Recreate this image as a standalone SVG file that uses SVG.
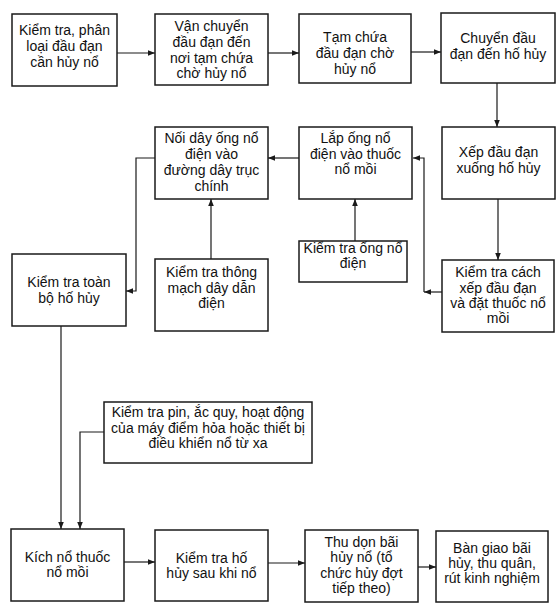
<svg xmlns="http://www.w3.org/2000/svg" width="558" height="616" viewBox="0 0 558 616">
<style>
.box{fill:#fff;stroke:#1a1a1a;stroke-width:1.5}
.t{font-family:"Liberation Sans",Arial,sans-serif;font-size:14px;fill:#111;text-anchor:middle}
.c{fill:none;stroke:#1a1a1a;stroke-width:1.2}
</style>
<defs>
<marker id="ah" viewBox="0 0 10 10" refX="10" refY="5" markerWidth="7" markerHeight="7" markerUnits="userSpaceOnUse" orient="auto">
<path d="M0,1 L10,5 L0,9 z" fill="#1a1a1a"/>
</marker>
</defs>
<rect width="558" height="616" fill="#fff"/>
<g id="connectors">
<line class="c" x1="117" y1="53" x2="155" y2="53" marker-end="url(#ah)"/>
<line class="c" x1="268" y1="53" x2="299" y2="53" marker-end="url(#ah)"/>
<line class="c" x1="411" y1="52" x2="441" y2="52" marker-end="url(#ah)"/>
<line class="c" x1="497" y1="83" x2="497" y2="127" marker-end="url(#ah)"/>
<line class="c" x1="498" y1="199" x2="498" y2="260" marker-end="url(#ah)"/>
<line class="c" x1="442" y1="292" x2="424" y2="292" marker-end="url(#ah)"/>
<polyline class="c" points="424,292 424,158 413,158" marker-end="url(#ah)"/>
<line class="c" x1="299" y1="158" x2="268" y2="158" marker-end="url(#ah)"/>
<line class="c" x1="355" y1="241" x2="355" y2="199" marker-end="url(#ah)"/>
<line class="c" x1="211" y1="259" x2="211" y2="199" marker-end="url(#ah)"/>
<polyline class="c" points="155,158 136,158 136,291 126,291" marker-end="url(#ah)"/>
<line class="c" x1="61" y1="326" x2="61" y2="529" marker-end="url(#ah)"/>
<polyline class="c" points="104,432 80,432 80,529" marker-end="url(#ah)"/>
<line class="c" x1="124" y1="562" x2="155" y2="562" marker-end="url(#ah)"/>
<line class="c" x1="268" y1="563" x2="305" y2="563" marker-end="url(#ah)"/>
<line class="c" x1="418" y1="567" x2="436" y2="567" marker-end="url(#ah)"/>
</g>
<g id="n1"><rect class="box" x="12" y="14" width="105" height="72"/>
<text class="t"><tspan x="64.5" y="35">Kiểm tra, phân</tspan><tspan x="64.5" y="51">loại đầu đạn</tspan><tspan x="64.5" y="67">cần hủy nổ</tspan></text></g>
<g id="n2"><rect class="box" x="155" y="14" width="113" height="71"/>
<text class="t"><tspan x="211.5" y="31">Vận chuyển</tspan><tspan x="211.5" y="47">đầu đạn đến</tspan><tspan x="211.5" y="62.5">nơi tạm chứa</tspan><tspan x="211.5" y="78">chờ hủy nổ</tspan></text></g>
<g id="n3"><rect class="box" x="299" y="14" width="112" height="69"/>
<text class="t"><tspan x="355" y="42">Tạm chứa</tspan><tspan x="355" y="58">đầu đạn chờ</tspan><tspan x="355" y="74">hủy nổ</tspan></text></g>
<g id="n4"><rect class="box" x="441" y="13" width="114" height="70"/>
<text class="t"><tspan x="498" y="43">Chuyển đầu</tspan><tspan x="498" y="59">đạn đến hố hủy</tspan></text></g>
<g id="n5"><rect class="box" x="442" y="127" width="113" height="72"/>
<text class="t"><tspan x="498.5" y="157">Xếp đầu đạn</tspan><tspan x="498.5" y="173">xuống hố hủy</tspan></text></g>
<g id="n6"><rect class="box" x="442" y="260" width="112" height="72"/>
<text class="t"><tspan x="498" y="277">Kiểm tra cách</tspan><tspan x="498" y="292.5">xếp đầu đạn</tspan><tspan x="498" y="308">và đặt thuốc nổ</tspan><tspan x="498" y="323">mồi</tspan></text></g>
<g id="n7"><rect class="box" x="299" y="127" width="113" height="72"/>
<text class="t"><tspan x="355.5" y="143">Lắp ống nổ</tspan><tspan x="355.5" y="159">điện vào thuốc</tspan><tspan x="355.5" y="174">nổ mồi</tspan></text></g>
<g id="n8"><rect class="box" x="299" y="241" width="108" height="41"/>
<text class="t"><tspan x="353" y="253">Kiểm tra ống nổ</tspan><tspan x="353" y="268">điện</tspan></text></g>
<g id="n9"><rect class="box" x="155" y="127" width="113" height="72"/>
<text class="t"><tspan x="211.5" y="143">Nối dây ống nổ</tspan><tspan x="211.5" y="159">điện vào</tspan><tspan x="211.5" y="175">đường dây trục</tspan><tspan x="211.5" y="191">chính</tspan></text></g>
<g id="n10"><rect class="box" x="155" y="259" width="113" height="72"/>
<text class="t"><tspan x="211.5" y="277">Kiểm tra thông</tspan><tspan x="211.5" y="293">mạch dây dẫn</tspan><tspan x="211.5" y="308">điện</tspan></text></g>
<g id="n11"><rect class="box" x="12" y="254" width="114" height="72"/>
<text class="t"><tspan x="69" y="287">Kiểm tra toàn</tspan><tspan x="69" y="303">bộ hố hủy</tspan></text></g>
<g id="n12"><rect class="box" x="104" y="402" width="208" height="61"/>
<text class="t"><tspan x="208" y="417">Kiểm tra pin, ắc quy, hoạt động</tspan><tspan x="208" y="433">của máy điểm hỏa hoặc thiết bị</tspan><tspan x="208" y="448">điều khiển nổ từ xa</tspan></text></g>
<g id="n13"><rect class="box" x="11" y="529" width="113" height="72"/>
<text class="t"><tspan x="67.5" y="562">Kích nổ thuốc</tspan><tspan x="67.5" y="577">nổ mồi</tspan></text></g>
<g id="n14"><rect class="box" x="155" y="530" width="113" height="71"/>
<text class="t"><tspan x="211.5" y="563">Kiểm tra hố</tspan><tspan x="211.5" y="578">hủy sau khi nổ</tspan></text></g>
<g id="n15"><rect class="box" x="305" y="530" width="113" height="72"/>
<text class="t"><tspan x="361.5" y="547">Thu dọn bãi</tspan><tspan x="361.5" y="562">hủy nổ (tổ</tspan><tspan x="361.5" y="578">chức hủy đợt</tspan><tspan x="361.5" y="593">tiếp theo)</tspan></text></g>
<g id="n16"><rect class="box" x="436" y="531" width="112" height="71"/>
<text class="t"><tspan x="492" y="553">Bàn giao bãi</tspan><tspan x="492" y="568">hủy, thu quân,</tspan><tspan x="492" y="583">rút kinh nghiệm</tspan></text></g>
</svg>
